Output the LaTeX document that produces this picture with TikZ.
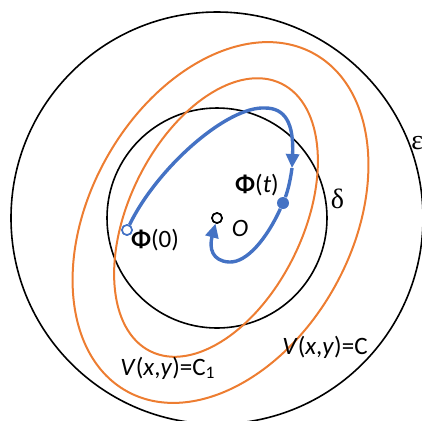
\documentclass[tikz,border=0pt]{standalone}
\usepackage{fontspec}
\setmainfont{Carlito}
\newfontfamily\greekfont{Liberation Serif}
\usepackage{tikz}
\usetikzlibrary{arrows.meta, positioning}
\definecolor{flowblue}{HTML}{4472C4}
\definecolor{levelorange}{HTML}{ED7D31}
\tikzset{
  ball/.style={draw=black, line width=0.8pt},
  level/.style={draw=levelorange, line width=1pt},
  flow/.style={draw=flowblue, line width=1.7pt},
  originV/.style={circle, draw=black, fill=white, line width=0.8pt,
                  inner sep=0pt, minimum size=5pt},
  startV/.style={circle, draw=flowblue, fill=white, line width=0.8pt,
                 inner sep=0pt, minimum size=5pt},
  dotV/.style={circle, fill=flowblue, inner sep=0pt, minimum size=6pt},
  lbl/.style={font=\fontsize{12.5}{15}\selectfont, inner sep=1pt},
}

\begin{document}
\begin{tikzpicture}[x=0.5pt, y=0.5pt]
    \useasboundingbox (-217,-202) rectangle (205,218);
    \clip (-217,-202) rectangle (205,218);
    % eps- and delta-balls
    \draw[ball] (0,0) circle (206);
    \draw[ball] (0,0) circle (110);
    % level sets of V
    \draw[level, rotate around={61:(3.5,-4.5)}] (3.5,-4.5) ellipse (193 and 131);
    \draw[level, rotate around={64:(-1,0.5)}] (-1,0.5) ellipse (149 and 87);
    % trajectory
    \node[originV] (O) at (0,0) {};
    \node[startV] (phi0) at (-90,-12) {};
    \node[dotV] (phit) at (66,15) {};
    \coordinate (mid) at (75,50);
    \draw[flow, -{Triangle[length=7pt, width=6.5pt]}]
      (phi0) .. controls (-60,50) and (10,112) .. (48,110)
             .. controls (68,110) and (77,95) .. (mid);
    \draw[flow] (mid) .. controls (73,35) and (70,25) .. (phit);
    \draw[flow, -{Triangle[length=7pt, width=6.5pt]}]
      (phit) .. controls (50,-20) and (30,-45) .. (12,-44)
             .. controls (-5,-43) and (-8,-30) .. (O);
    \node[startV] at (phi0) {};
    \node[originV] at (O) {};
    % labels
    \node[lbl] (phi0L) at (-62,-22) {\textbf{Φ}(0)};
    \node[lbl] (phitL) at (40,33) {\textbf{Φ}(\textit{t})};
    \node[lbl] (OL) at (23,-10) {\textit{O}};
    \node[lbl, font=\fontsize{14}{16}\greekfont] (deltaL) at (120.5,19) {δ};
    \node[lbl, font=\fontsize{14}{16}\greekfont, anchor=west] (epsL) at (192,75) {ε};
    \node[lbl] (CL) at (108,-129) {\textit{V}(\textit{x},\textit{y})=C};
    \node[lbl] (C1L) at (-49,-150) {\textit{V}(\textit{x},\textit{y})=C\textsubscript{1}};
  \end{tikzpicture}
\end{document}
